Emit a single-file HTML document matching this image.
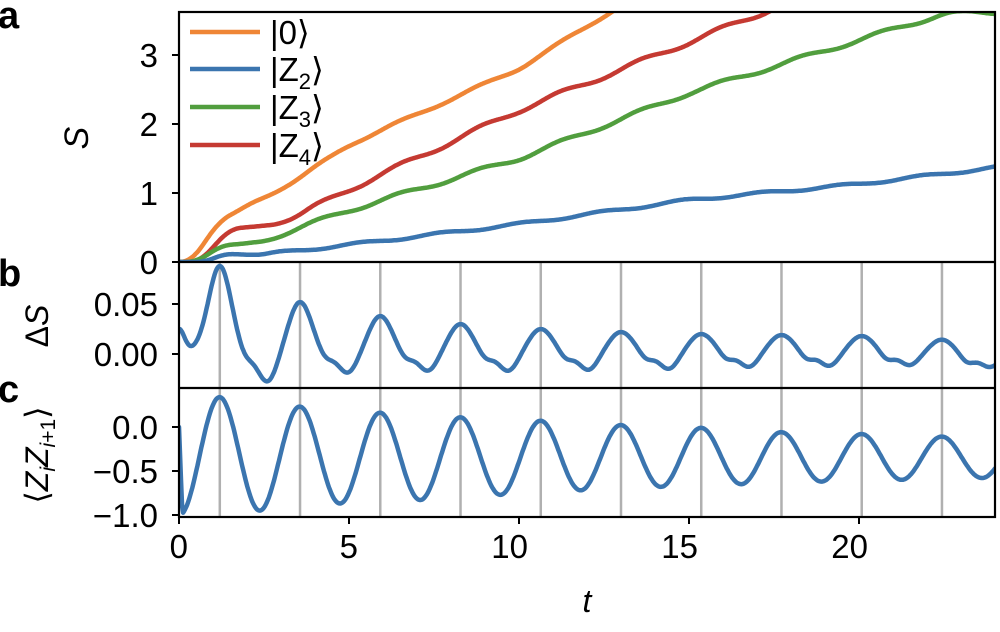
<!DOCTYPE html>
<html><head><meta charset="utf-8"><style>
body{margin:0;background:#fff}
svg{display:block;font-family:"Liberation Sans","DejaVu Sans",sans-serif}
</style></head><body>
<svg id="s" width="1000" height="632" xmlns="http://www.w3.org/2000/svg">
<defs>
<clipPath id="ca"><rect x="179" y="12" width="816" height="250"/></clipPath>
<clipPath id="cb"><rect x="179" y="262" width="816" height="126"/></clipPath>
<clipPath id="cc"><rect x="179" y="388" width="816" height="129"/></clipPath>
</defs>
<g id="grid" stroke="#b0b0b0" stroke-width="2.5"></g>
<g id="curves" fill="none" stroke-width="4.5" stroke-linejoin="round" stroke-linecap="round"></g>
<g fill="none" stroke="#000" stroke-width="2.2">
<rect x="179" y="12" width="816" height="505"/>
<line x1="179" y1="262" x2="995" y2="262"/>
<line x1="179" y1="388" x2="995" y2="388"/>
</g>
<g id="ticks" stroke="#000" stroke-width="2"></g>
<g font-size="33" fill="#000" text-anchor="end" id="lbl"></g>
<g font-size="38" font-weight="bold">
<text x="-2" y="28">a</text><text x="-2" y="286">b</text><text x="-2" y="402">c</text>
</g>
<text x="88" y="138" font-size="34" font-style="italic" transform="rotate(-90 88 138)" text-anchor="middle">S</text>
<text x="48" y="326" font-size="32" transform="rotate(-90 48 326)" text-anchor="middle">Δ<tspan font-style="italic">S</tspan></text>
<text x="48" y="455" font-size="32" transform="rotate(-90 48 455)" text-anchor="middle">⟨<tspan font-style="italic">Z</tspan><tspan font-style="italic" font-size="21" dy="7">i</tspan><tspan font-style="italic" dy="-7">Z</tspan><tspan font-style="italic" font-size="21" dy="7">i</tspan><tspan font-size="21">+1</tspan><tspan dy="-7">⟩</tspan></text>
<text x="587" y="612" font-size="32" font-style="italic" text-anchor="middle">t</text>
<g stroke-width="4.5">
<line x1="190" y1="32" x2="260" y2="32" stroke="#ef8636"/>
<line x1="190" y1="69" x2="260" y2="69" stroke="#3b75af"/>
<line x1="190" y1="107" x2="260" y2="107" stroke="#519e3e"/>
<line x1="190" y1="145" x2="260" y2="145" stroke="#c53a32"/>
</g>
<g font-size="33">
<text x="270" y="44">|0⟩</text>
<text x="270" y="81">|Z<tspan font-size="22" dy="8">2</tspan><tspan dy="-8">⟩</tspan></text>
<text x="270" y="119">|Z<tspan font-size="22" dy="8">3</tspan><tspan dy="-8">⟩</tspan></text>
<text x="270" y="157">|Z<tspan font-size="22" dy="8">4</tspan><tspan dy="-8">⟩</tspan></text>
</g>
</svg>
<script>
const NS="http://www.w3.org/2000/svg";
function X(t){return 179+34*t;}
function el(p,tag,a,txt){const e=document.createElementNS(NS,tag);for(const k in a)e.setAttribute(k,a[k]);if(txt!=null)e.textContent=txt;document.getElementById(p).appendChild(e);return e;}
const P=2.36,T0=1.2;
const tk=[];for(let k=0;k<10;k++)tk.push(T0+k*P);
tk.forEach(t=>el("grid","line",{x1:X(t),y1:262,x2:X(t),y2:517}));
[0,5,10,15,20].forEach(v=>{el("ticks","line",{x1:X(v),y1:517,x2:X(v),y2:524});el("lbl","text",{x:X(v)+9,y:558},String(v));});
const ya=v=>262-69*v;
[0,1,2,3].forEach(v=>{el("ticks","line",{x1:172,y1:ya(v),x2:179,y2:ya(v)});el("lbl","text",{x:158,y:ya(v)+12},String(v));});
const yb=v=>354-1000*v;
[[0.05,"0.05"],[0,"0.00"]].forEach(([v,s])=>{el("ticks","line",{x1:172,y1:yb(v),x2:179,y2:yb(v)});el("lbl","text",{x:158,y:yb(v)+12},s);});
const yc=v=>427-88*v;
[[0,"0.0"],[-0.5,"\u22120.5"],[-1,"\u22121.0"]].forEach(([v,s])=>{el("ticks","line",{x1:172,y1:yc(v),x2:179,y2:yc(v)});el("lbl","text",{x:158,y:yc(v)+12},s);});
function path(f,yf,col,clip,t0=0,t1=24){let d="";for(let t=t0;t<=t1+1e-9;t+=0.03){d+=(d?"L":"M")+X(t).toFixed(1)+","+yf(f(t)).toFixed(1);}el("curves","path",{d:d,stroke:col,"clip-path":"url(#"+clip+")"});}
function pl(pts){return t=>{if(t<=pts[0][0])return pts[0][1];for(let i=1;i<pts.length;i++){if(t<=pts[i][0]){const [a,b]=pts[i-1],[c,d]=pts[i];return b+(d-b)*(t-a)/(c-a);}}const n=pts.length;const [a,b]=pts[n-2],[c,d]=pts[n-1];return d+(d-b)/(c-a)*(t-c);};}
function sm(f,w){return t=>{let s=0,n=0;for(let u=-w;u<=w+1e-9;u+=w/6){s+=f(t+u);n++;}return s/n;};}
const ramp=(t,a,w)=>{const x=(t-a)/w;return x<=0?0:x>=1?1:x*x*(3-2*x);};
const wig=(t,a)=>a*Math.sin(2*Math.PI*(t-T0)/P);
const fo=sm(pl([[0,0],[0.35,0],[1.2,0.6],[3.5,1.2],[5,1.7],[10,2.8],[12.6,3.6],[14,4]]),0.3);
path(t=>fo(t)+wig(t,0.02)*ramp(t,1.5,1),ya,"#ef8636","ca");
const fr=sm(pl([[0,0],[0.6,0],[1.5,0.48],[3,0.55],[5,1.05],[10,2.2],[17.1,3.6],[18,3.8]]),0.3);
path(t=>fr(t)+wig(t,0.035)*ramp(t,3,1),ya,"#c53a32","ca");
const fg=sm(pl([[0,0],[0.5,0],[1.3,0.25],[2.2,0.26],[5,0.75],[10,1.5],[15,2.45],[22.5,3.6],[24,3.62]]),0.3);
path(t=>fg(t)+wig(t,0.03)*ramp(t,1.5,1),ya,"#519e3e","ca");
const fb=sm(pl([[0,0],[0.8,0],[1.3,0.12],[2.3,0.1],[5,0.25],[10,0.55],[15,0.9],[20,1.13],[24,1.37]]),0.3);
path(t=>fb(t)-wig(t,0.018)*ramp(t,2,1),ya,"#3b75af","ca");
const pa=[0.088,0.052,0.038,0.030,0.025,0.022,0.020,0.019,0.018,0.017];
const ma=[-0.031,-0.022,-0.02,-0.02,-0.019,-0.018,-0.016,-0.015,-0.013,-0.012];
path(t=>{let v=0.025*Math.exp(-t*t/0.05)+0.003*(1-Math.exp(-t*t/0.05));for(let k=0;k<10;k++){v+=(pa[k]-0.003)*Math.exp(-Math.pow(t-tk[k],2)/(2*0.33*0.33));v+=ma[k]*Math.exp(-Math.pow(t-tk[k]-1.4,2)/(2*0.28*0.28));v+=-0.008*Math.exp(-Math.pow(t-tk[k]-0.75,2)/(2*0.2*0.2));}return v-0.004*ramp(t,20,4);},yb,"#3b75af","cb");
const pk=pl([[0,0.36],[1.2,0.34],[3.6,0.23],[6,0.16],[8.3,0.11],[10.7,0.07],[13.1,0.02],[15.4,-0.01],[17.8,-0.06],[20.1,-0.08],[22.5,-0.11],[25,-0.14]]);
const mn=pl([[0,-1.0],[2.4,-0.95],[4.7,-0.87],[7.1,-0.83],[9.5,-0.77],[11.8,-0.72],[14.2,-0.68],[16.5,-0.65],[18.9,-0.62],[21.3,-0.6],[23.6,-0.58],[26,-0.56]]);
path(t=>{if(t<0.1)return -t*10;const p=pk(t),m=mn(t);return (p+m)/2+(p-m)/2*Math.cos(2*Math.PI*(t-T0)/P);},yc,"#3b75af","cc",0,24);
</script>
</body></html>
